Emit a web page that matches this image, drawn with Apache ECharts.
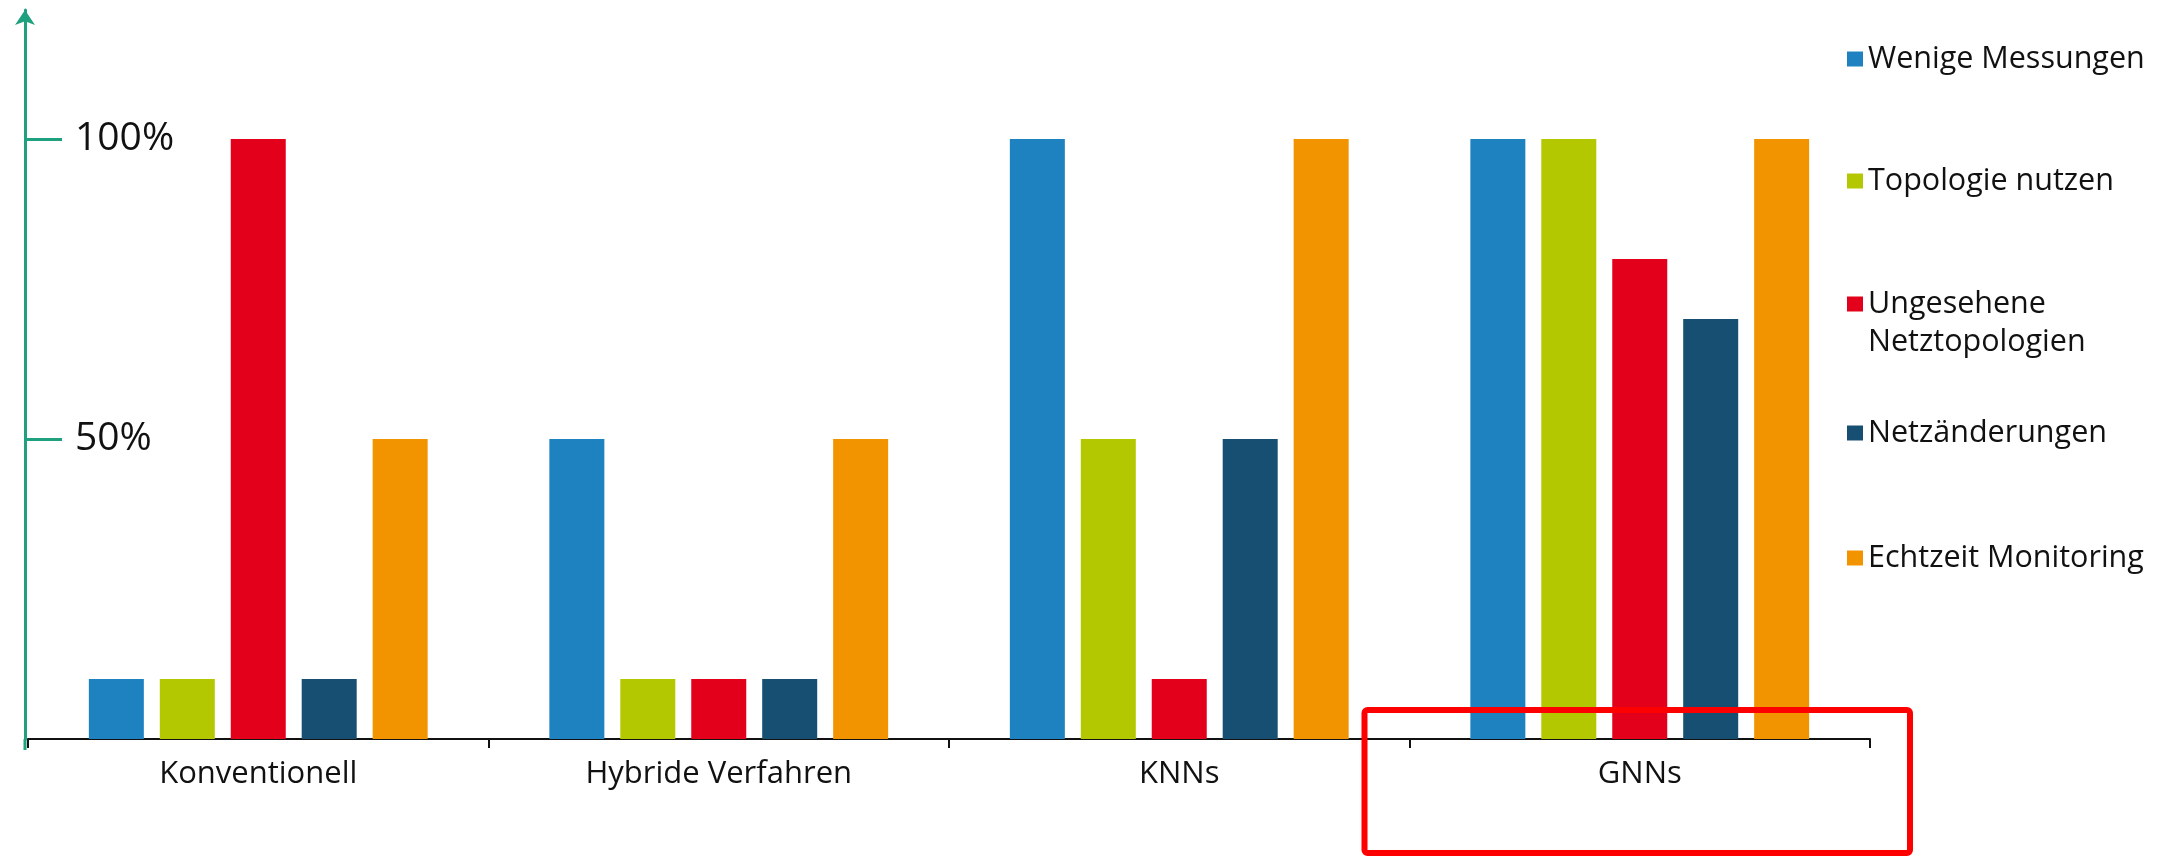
<!DOCTYPE html>
<html>
<head>
<meta charset="utf-8">
<script src="https://cdn.jsdelivr.net/npm/echarts@6/dist/echarts.min.js"></script>
<style>
html,body{margin:0;padding:0;background:#fff;}
#chart{width:2174px;height:856px;}
</style>
</head>
<body>
<div id="chart"></div>
<script>
const categories = ['Konventionell', 'Hybride Verfahren', 'KNNs', 'GNNs'];
const seriesNames = ['Wenige Messungen', 'Topologie nutzen', 'Ungesehene Netztopologien', 'Netzänderungen', 'Echtzeit Monitoring'];
const wenigeMessungen = [10, 50, 100, 100];
const topologieNutzen = [10, 10, 50, 100];
const ungeseheneNetztopologien = [100, 10, 10, 80];
const netzaenderungen = [10, 10, 50, 70];
const echtzeitMonitoring = [50, 50, 100, 100];
const yTickValues = [50, 100];
const highlightCategory = 'GNNs';

const seriesData = [wenigeMessungen, topologieNutzen, ungeseheneNetztopologien, netzaenderungen, echtzeitMonitoring];
const colors = ['#1f82c0', '#b3c800', '#e2001a', '#164f72', '#f29400'];
const FONT = '"Open Sans", "Noto Sans", sans-serif';

const legendTops = [40, 162, 247, 414, 539];
const legends = seriesNames.map((name, i) => ({
  data: [name],
  orient: 'vertical',
  left: 1847,
  top: legendTops[i],
  padding: 0,
  icon: 'rect',
  itemWidth: 16,
  itemHeight: 15,
  selectedMode: false,
  formatter: n => n === 'Ungesehene Netztopologien' ? ' \nUngesehene\nNetztopologien' : n,
  textStyle: { fontFamily: FONT, fontSize: 30.5, color: '#111', lineHeight: 38 }
}));

const chart = echarts.init(document.getElementById('chart'), null, { renderer: 'canvas' });
chart.setOption({
  animation: false,
  backgroundColor: '#fff',
  color: colors,
  grid: { left: 28, right: 304, top: 10, bottom: 117, containLabel: false },
  legend: legends,
  xAxis: {
    type: 'category',
    data: categories,
    boundaryGap: true,
    axisLine: { lineStyle: { color: '#111', width: 2 } },
    axisTick: { show: true, alignWithLabel: false, length: 9, lineStyle: { color: '#111', width: 2 } },
    axisLabel: { fontFamily: FONT, fontSize: 31, color: '#111', margin: 20 }
  },
  yAxis: {
    type: 'value',
    min: 0,
    max: 121.5,
    interval: 50,
    offset: 3,
    splitLine: { show: false },
    axisLine: { show: true, lineStyle: { color: '#1fa07f', width: 3 }, symbol: ['none', 'arrow'], symbolSize: [15, 15] },
    axisTick: { show: true, inside: true, length: 37, lineStyle: { color: '#1fa07f', width: 3 }, customValues: yTickValues },
    axisLabel: { inside: true, margin: 50, fontFamily: FONT, fontSize: 39, color: '#111', customValues: yTickValues, formatter: v => v + '%' }
  },
  series: seriesNames.map((name, i) => ({
    name,
    type: 'bar',
    data: seriesData[i],
    barWidth: 55,
    barGap: '29%',
    itemStyle: { color: colors[i] }
  }))
});

const cx = chart.convertToPixel({ xAxisIndex: 0 }, highlightCategory);
const base = chart.convertToPixel({ yAxisIndex: 0 }, 0);
const catW = 1842 / 4;
chart.setOption({
  graphic: [
    {
      type: 'rect',
      shape: { x: cx - catW / 2 - 45, y: base - 29, width: catW + 85, height: 143, r: 3 },
      style: { fill: 'none', stroke: '#ff0000', lineWidth: 6 },
      z: 100
    },
    {
      type: 'line',
      shape: { x1: 25, y1: base, x2: 25, y2: base + 11 },
      style: { stroke: '#1fa07f', lineWidth: 3 },
      z: 5
    }
  ]
});
</script>
</body>
</html>
